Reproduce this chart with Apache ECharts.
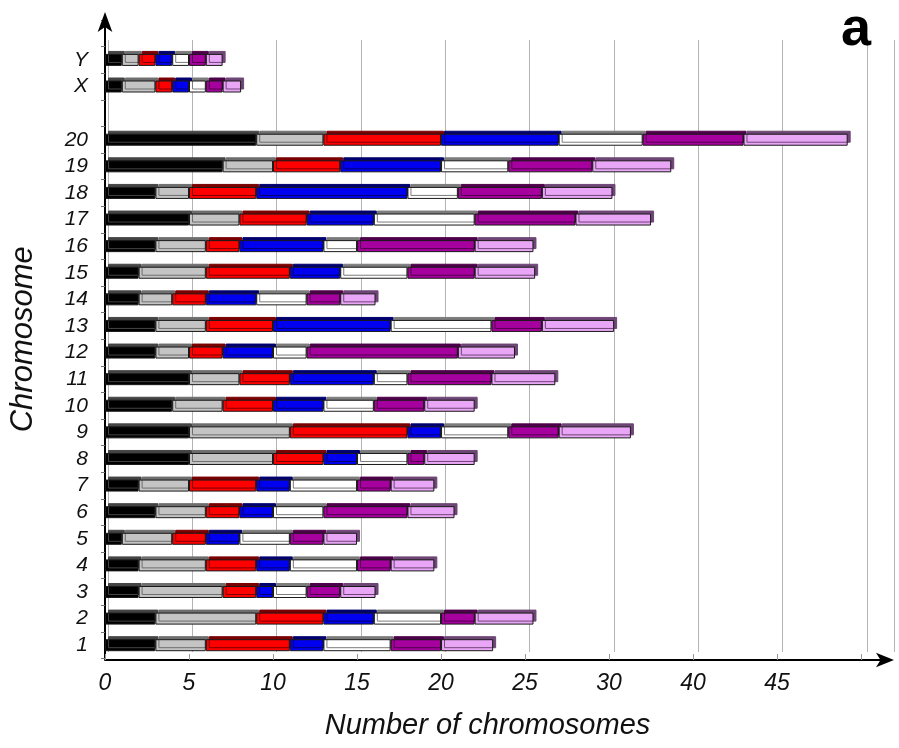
<!DOCTYPE html>
<html>
<head>
<meta charset="utf-8">
<script src="https://cdn.jsdelivr.net/npm/echarts@6/dist/echarts.min.js"></script>
<style>
  html, body { margin: 0; padding: 0; background: #fff; }
  #chart { width: 899px; height: 748px; }
</style>
</head>
<body>
<div id="chart"></div>
<script>
// chromosome rows, bottom to top; '' rows are gaps
const categories = ['1', '2', '3', '4', '5', '6', '7', '8', '9', '10',
  '11', '12', '13', '14', '15', '16', '17', '18', '19', '20', '', 'X', 'Y', ''];

// x axis tick labels as printed (35 is labelled 40 in the original figure)
const tickLabels = ['0', '5', '10', '15', '20', '25', '30', '40', '45', ''];

// segment lengths per row
const black  = [3, 3, 2, 2, 1, 3, 2, 5, 5, 4, 5, 3, 3, 2, 2, 3, 5, 3, 7, 9, null, 1, 1, null];
const gray   = [3, 6, 5, 4, 3, 3, 3, 5, 6, 3, 3, 2, 3, 2, 4, 3, 3, 2, 3, 4, null, 2, 1, null];
const red    = [5, 4, 2, 3, 2, 2, 4, 3, 7, 3, 3, 2, 4, 2, 5, 2, 4, 4, 4, 7, null, 1, 1, null];
const blue   = [2, 3, 1, 2, 2, 2, 2, 2, 2, 3, 5, 3, 7, 3, 3, 5, 4, 9, 6, 7, null, 1, 1, null];
const white  = [4, 4, 2, 4, 3, 3, 4, 3, 4, 3, 2, 2, 6, 3, 4, 2, 6, 3, 4, 5, null, 1, 1, null];
const purple = [3, 2, 2, 2, 2, 5, 2, 1, 3, 3, 5, 9, 3, 2, 4, 7, 6, 5, 5, 6, null, 1, 1, null];
const violet = [3.1, 3.5, 2.1, 2.6, 2, 2.8, 2.6, 3, 4.3, 3, 3.8, 3.4, 4.3, 2.1, 3.6, 3.5, 4.5, 4.2, 4.7, 6.2, null, 1.1, 1, null];

const segments = [
  { name: 'black', data: black, color: '#000000', top: '#444444' },
  { name: 'gray', data: gray, color: '#c4c4c4', top: '#6e6e6e' },
  { name: 'red', data: red, color: '#ff0000', top: '#7a0000' },
  { name: 'blue', data: blue, color: '#0000f0', top: '#00006e' },
  { name: 'white', data: white, color: '#ffffff', top: '#7c7c7c' },
  { name: 'purple', data: purple, color: '#a6009e', top: '#4e004a' },
  { name: 'violet', data: violet, color: '#eaa6f6', top: '#6e4676' },
];

const font = '"Liberation Sans Narrow", "Liberation Sans", Arial, sans-serif';
const xMax = 46.6;

const chart = echarts.init(document.getElementById('chart'));

chart.setOption({
  animation: false,
  backgroundColor: '#fff',
  title: {
    text: 'a',
    left: 836,
    top: -2,
    textStyle: { fontSize: 54, fontWeight: 'bold', fontFamily: '"Liberation Sans", Arial, sans-serif', color: '#000' },
  },
  grid: [
    { left: 102, right: 11, top: 20, bottom: 89.5 },
    // back wall, only for the grid lines
    { left: 108, right: 5, top: 40, bottom: 96 },
  ],
  xAxis: [
    {
      type: 'value',
      gridIndex: 0,
      min: 0,
      max: xMax,
      interval: 5,
      offset: 1.5,
      name: 'Number of chromosomes',
      nameLocation: 'middle',
      nameGap: 51,
      nameTextStyle: { fontSize: 29, fontStyle: 'italic', fontFamily: font, color: '#111', padding: [0, 18, 0, 0] },
      axisLine: {
        show: true,
        symbol: ['none', 'arrow'],
        symbolSize: [11, 18],
        symbolOffset: [0, 6],
        lineStyle: { color: '#000', width: 2 },
      },
      axisTick: { show: true, inside: true, length: 6, lineStyle: { color: '#999' } },
      splitLine: { show: false },
      axisLabel: {
        margin: 12,
        fontSize: 23,
        fontStyle: 'italic',
        fontFamily: font,
        color: '#111',
        showMaxLabel: false,
        formatter: (v) => tickLabels[Math.round(v / 5)] || '',
      },
    },
    {
      type: 'value',
      gridIndex: 1,
      min: 0,
      max: xMax,
      interval: 5,
      axisLine: { show: false },
      axisTick: { show: false },
      axisLabel: { show: false },
      splitLine: { show: true, lineStyle: { color: '#b4b4b4', width: 1 } },
    },
  ],
  yAxis: [
    {
      type: 'category',
      gridIndex: 0,
      data: categories,
      name: 'Chromosome',
      nameLocation: 'middle',
      nameGap: 66,
      nameTextStyle: { fontSize: 31, fontStyle: 'italic', fontFamily: font, color: '#111' },
      axisLine: {
        show: true,
        symbol: ['none', 'arrow'],
        symbolSize: [11, 20],
        symbolOffset: [0, 8],
        lineStyle: { color: '#000', width: 2 },
      },
      axisTick: { show: true, length: 4, interval: 0, lineStyle: { color: '#777' } },
      axisLabel: {
        interval: 0,
        margin: 17,
        fontSize: 21,
        fontStyle: 'italic',
        fontFamily: font,
        color: '#111',
      },
    },
    {
      type: 'value',
      gridIndex: 1,
      show: false,
      min: 0,
      max: 1,
    },
  ],
  series: segments.map((s) => ({
    name: s.name,
    type: 'bar',
    stack: 'total',
    xAxisIndex: 0,
    yAxisIndex: 0,
    barWidth: 12,
    data: s.data,
    itemStyle: {
      color: s.color,
      borderColor: '#1a1a1a',
      borderWidth: 1,
      shadowColor: s.top,
      shadowBlur: 0,
      shadowOffsetX: 3,
      shadowOffsetY: -3,
    },
  })),
});
</script>
</body>
</html>
